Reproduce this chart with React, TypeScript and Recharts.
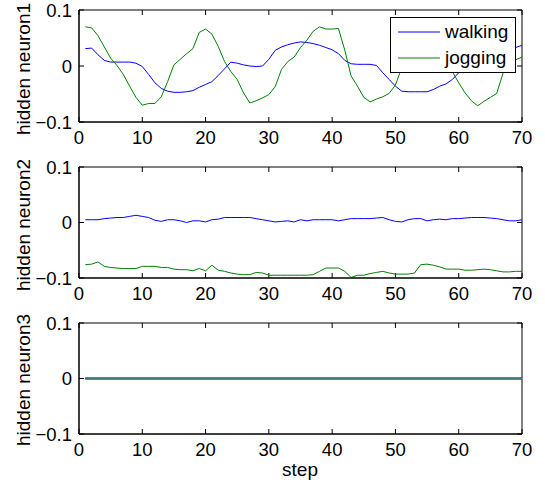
import React from 'react';
import { LineChart, Line, XAxis, YAxis, Legend, ReferenceLine, ReferenceArea } from 'recharts';

const steps: number[] = Array.from({ length: 70 }, (_, i) => i + 1);
const xTicks = [0, 10, 20, 30, 40, 50, 60, 70];
const yTicks = [-0.1, 0, 0.1];
const panelLabels = ['hidden neuron1', 'hidden neuron2', 'hidden neuron3'];
const seriesNames = ['walking', 'jogging'];

const walking1 = [
  0.031, 0.032, 0.020, 0.010, 0.007, 0.007, 0.007, 0.007, 0.005, -0.001,
  -0.015, -0.030, -0.040, -0.045, -0.047, -0.047, -0.046, -0.044, -0.038, -0.033,
  -0.028, -0.017, -0.005, 0.007, 0.005, 0.002, 0.000, -0.001, 0.000, 0.012,
  0.028, 0.034, 0.038, 0.041, 0.043, 0.042, 0.040, 0.037, 0.033, 0.029,
  0.022, 0.010, 0.004, 0.003, 0.003, 0.003, 0.001, -0.012, -0.024, -0.036,
  -0.045, -0.046, -0.046, -0.046, -0.046, -0.042, -0.036, -0.032, -0.024, -0.012,
  -0.003, 0.004, 0.005, 0.004, 0.003, 0.005, 0.014, 0.025, 0.033, 0.037,
];
const jogging1 = [
  0.070, 0.068, 0.054, 0.034, 0.014, 0.001, -0.015, -0.036, -0.056, -0.070,
  -0.067, -0.067, -0.055, -0.028, 0.002, 0.012, 0.022, 0.031, 0.060, 0.066,
  0.057, 0.035, 0.008, -0.010, -0.024, -0.048, -0.066, -0.062, -0.057, -0.051,
  -0.037, -0.006, 0.008, 0.016, 0.033, 0.046, 0.062, 0.070, 0.066, 0.066,
  0.067, 0.028, -0.018, -0.036, -0.056, -0.064, -0.059, -0.055, -0.049, -0.034,
  -0.003, 0.012, 0.024, 0.035, 0.060, 0.066, 0.056, 0.030, -0.010, -0.030,
  -0.048, -0.062, -0.071, -0.063, -0.056, -0.049, -0.013, 0.004, 0.011, 0.016,
];
const walking2 = [
  0.005, 0.005, 0.005, 0.007, 0.008, 0.009, 0.009, 0.011, 0.013, 0.011,
  0.009, 0.004, 0.002, 0.005, 0.005, 0.003, 0.000, 0.003, 0.003, 0.001,
  0.005, 0.006, 0.009, 0.009, 0.009, 0.009, 0.009, 0.007, 0.005, 0.003,
  0.001, 0.002, 0.003, 0.001, 0.005, 0.003, 0.005, 0.005, 0.005, 0.005,
  0.003, 0.005, 0.007, 0.007, 0.007, 0.007, 0.008, 0.009, 0.005, 0.002,
  0.001, 0.005, 0.007, 0.007, 0.003, 0.005, 0.006, 0.005, 0.007, 0.007,
  0.008, 0.009, 0.009, 0.009, 0.008, 0.007, 0.005, 0.003, 0.003, 0.005,
];
const jogging2 = [
  -0.076, -0.075, -0.071, -0.079, -0.081, -0.082, -0.083, -0.083, -0.083, -0.079,
  -0.079, -0.079, -0.081, -0.081, -0.084, -0.085, -0.085, -0.087, -0.083, -0.087,
  -0.077, -0.086, -0.088, -0.091, -0.093, -0.094, -0.094, -0.090, -0.091, -0.095,
  -0.095, -0.095, -0.095, -0.095, -0.095, -0.095, -0.094, -0.088, -0.082, -0.082,
  -0.082, -0.088, -0.099, -0.095, -0.095, -0.092, -0.090, -0.088, -0.091, -0.093,
  -0.093, -0.093, -0.091, -0.076, -0.075, -0.077, -0.080, -0.084, -0.084, -0.084,
  -0.086, -0.086, -0.085, -0.084, -0.085, -0.087, -0.089, -0.089, -0.088, -0.088,
];
const walking3 = [
  0, 0, 0, 0, 0, 0, 0, 0, 0, 0, 0, 0, 0, 0, 0, 0, 0, 0, 0, 0,
  0, 0, 0, 0, 0, 0, 0, 0, 0, 0, 0, 0, 0, 0, 0, 0, 0, 0, 0, 0,
  0, 0, 0, 0, 0, 0, 0, 0, 0, 0, 0, 0, 0, 0, 0, 0, 0, 0, 0, 0,
  0, 0, 0, 0, 0, 0, 0, 0, 0, 0,
];
const jogging3 = [
  0, 0, 0, 0, 0, 0, 0, 0, 0, 0, 0, 0, 0, 0, 0, 0, 0, 0, 0, 0,
  0, 0, 0, 0, 0, 0, 0, 0, 0, 0, 0, 0, 0, 0, 0, 0, 0, 0, 0, 0,
  0, 0, 0, 0, 0, 0, 0, 0, 0, 0, 0, 0, 0, 0, 0, 0, 0, 0, 0, 0,
  0, 0, 0, 0, 0, 0, 0, 0, 0, 0,
];

const FONT = '"Liberation Sans", Arial, Helvetica, sans-serif';
const TICK_FS = 18.5;
const LABEL_FS = 19;
const TICK_LEN = 5;

const fmtY = (v: number) => (v < 0 ? '\u2212' + String(Math.abs(v)) : String(v));

function BottomTick(props: any) {
  const { x, y, payload } = props;
  return (
    <text x={x} y={y + 22} textAnchor="middle" fontSize={TICK_FS} fontFamily={FONT} fill="#000">
      {payload.value}
    </text>
  );
}
function LeftTick(props: any) {
  const { x, y, payload } = props;
  return (
    <text x={x - 7} y={y} dy="0.36em" textAnchor="end" fontSize={TICK_FS} fontFamily={FONT} fill="#000">
      {fmtY(payload.value)}
    </text>
  );
}
// inward tick marks at both ends of a vertical reference line (top & bottom edges)
function VTickShape(props: any) {
  const { x1, y1, y2 } = props;
  const top = Math.min(y1, y2);
  const bot = Math.max(y1, y2);
  return (
    <g>
      <line x1={x1} y1={top} x2={x1} y2={top + TICK_LEN} stroke="#000" strokeWidth={1} />
      <line x1={x1} y1={bot} x2={x1} y2={bot - TICK_LEN} stroke="#000" strokeWidth={1} />
    </g>
  );
}
// inward tick marks at both ends of a horizontal reference line (left & right edges)
function HTickShape(props: any) {
  const { x1, x2, y1 } = props;
  const left = Math.min(x1, x2);
  const right = Math.max(x1, x2);
  return (
    <g>
      <line x1={left} y1={y1} x2={left + TICK_LEN} y2={y1} stroke="#000" strokeWidth={1} />
      <line x1={right} y1={y1} x2={right - TICK_LEN} y2={y1} stroke="#000" strokeWidth={1} />
    </g>
  );
}
function YLabel(props: any) {
  const { text, cy } = props;
  return (
    <text
      x={30}
      y={cy}
      transform={`rotate(-90, 30, ${cy})`}
      textAnchor="middle"
      fontSize={LABEL_FS}
      fontFamily={FONT}
      fill="#000"
    >
      {text}
    </text>
  );
}
function XLabel(props: any) {
  const { text, lx, ly } = props;
  return (
    <text x={lx} y={ly} textAnchor="middle" fontSize={LABEL_FS} fontFamily={FONT} fill="#000">
      {text}
    </text>
  );
}
function LegendBox(props: any) {
  const payload = [...(props.payload || [])].sort(
    (a: any, b: any) => seriesNames.indexOf(a.value) - seriesNames.indexOf(b.value)
  );
  return (
    <div
      style={{
        boxSizing: 'border-box',
        width: 126,
        height: 56,
        border: '1px solid #000',
        background: '#fff',
        padding: '1px 0 0 7px',
        fontFamily: FONT,
      }}
    >
      {payload.map((p: any) => (
        <div key={p.value} style={{ display: 'flex', alignItems: 'center', height: 26 }}>
          <svg width={42} height={4} style={{ display: 'block' }}>
            <line x1={0} y1={2} x2={42} y2={2} stroke={p.color} strokeWidth={1} />
          </svg>
          <span style={{ marginLeft: 5, fontSize: LABEL_FS, lineHeight: '26px', color: '#000' }}>{p.value}</span>
        </div>
      ))}
    </div>
  );
}

interface PanelProps {
  top: number;
  height: number;
  marginTop: number;
  plotHeight: number;
  walking: number[];
  jogging: number[];
  label: string;
  labelCy: number;
  showLegend?: boolean;
  xLabel?: string;
  joggingColor?: string;
  lineWidth?: number;
}

function Panel(p: PanelProps) {
  const data = steps.map((s, i) => ({ step: s, walking: p.walking[i], jogging: p.jogging[i] }));
  const xAxisHeight = p.height - p.marginTop - p.plotHeight;
  const lw = p.lineWidth ?? 1;
  return (
    <div style={{ position: 'absolute', left: 0, top: p.top, width: 545, height: p.height }}>
      <LineChart width={545} height={p.height} data={data} margin={{ top: p.marginTop, right: 23, bottom: 0, left: 0 }}>
        <XAxis
          xAxisId="b"
          dataKey="step"
          type="number"
          domain={[0, 70]}
          ticks={xTicks}
          interval={0}
          allowDataOverflow
          height={xAxisHeight}
          tickSize={0}
          tickMargin={0}
          tickLine={false}
          axisLine={{ stroke: '#000', strokeWidth: 1 }}
          tick={<BottomTick />}
          label={p.xLabel ? <XLabel text={p.xLabel} lx={300} ly={p.marginTop + p.plotHeight + 42} /> : undefined}
        />
        <YAxis
          yAxisId="l"
          type="number"
          domain={[-0.1, 0.1]}
          ticks={yTicks}
          interval={0}
          allowDataOverflow
          width={79}
          tickSize={0}
          tickMargin={0}
          tickLine={false}
          axisLine={{ stroke: '#000', strokeWidth: 1 }}
          tick={<LeftTick />}
          label={<YLabel text={p.label} cy={p.labelCy} />}
        />
        <ReferenceArea
          xAxisId="b"
          yAxisId="l"
          x1={0}
          x2={70}
          y1={-0.1}
          y2={0.1}
          fill="none"
          fillOpacity={0}
          stroke="#000"
          strokeWidth={1}
          ifOverflow="visible"
        />
        {xTicks.map((t) => (
          <ReferenceLine key={'vx' + t} xAxisId="b" yAxisId="l" x={t} ifOverflow="visible" shape={<VTickShape />} />
        ))}
        {yTicks.map((t) => (
          <ReferenceLine key={'hy' + t} xAxisId="b" yAxisId="l" y={t} ifOverflow="visible" shape={<HTickShape />} />
        ))}
        <Line
          xAxisId="b"
          yAxisId="l"
          type="linear"
          dataKey="walking"
          name={seriesNames[0]}
          stroke="#0000ff"
          strokeWidth={lw}
          dot={false}
          activeDot={false}
          isAnimationActive={false}
        />
        <Line
          xAxisId="b"
          yAxisId="l"
          type="linear"
          dataKey="jogging"
          name={seriesNames[1]}
          stroke={p.joggingColor ?? '#008000'}
          strokeWidth={lw}
          dot={false}
          activeDot={false}
          isAnimationActive={false}
        />
        {p.showLegend && (
          <Legend
            layout="vertical"
            align="center"
            verticalAlign="middle"
            wrapperStyle={{ left: 390, top: 17, width: 126, height: 56, margin: 0, padding: 0 }}
            content={(lp: any) => <LegendBox {...lp} />}
          />
        )}
      </LineChart>
    </div>
  );
}

export default function App() {
  return (
    <div style={{ position: 'absolute', left: 0, top: 0, width: 545, height: 483, background: '#fff', fontFamily: FONT }}>
      <Panel top={0} height={150} marginTop={10} plotHeight={112} walking={walking1} jogging={jogging1} label={panelLabels[0]} labelCy={69} showLegend />
      <Panel top={150} height={157} marginTop={17} plotHeight={111} walking={walking2} jogging={jogging2} label={panelLabels[1]} labelCy={75} />
      <Panel
        top={307}
        height={176}
        marginTop={16}
        plotHeight={111}
        walking={walking3}
        jogging={jogging3}
        label={panelLabels[2]}
        labelCy={73}
        xLabel="step"
        joggingColor="#3b7d7a"
        lineWidth={2}
      />
    </div>
  );
}
